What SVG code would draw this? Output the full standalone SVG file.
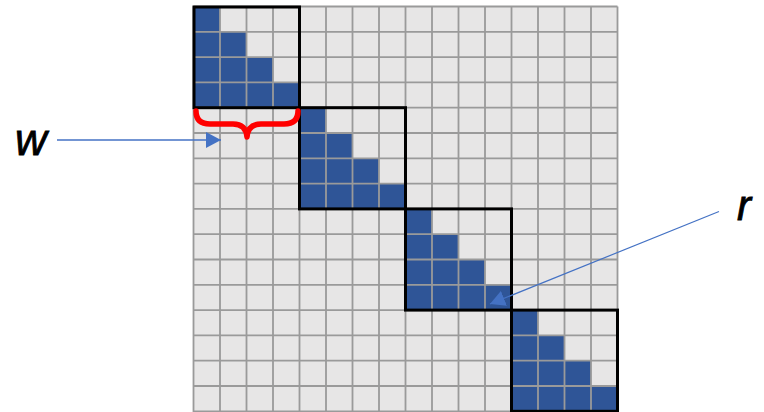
<svg xmlns="http://www.w3.org/2000/svg" width="764" height="412" viewBox="0 0 764 412">
  <defs>
    <style>
      .bg { fill: #e7e6e6; }
      .cell { fill: #2f5597; }
      .grid { stroke: #9a9a9a; stroke-width: 1.8; fill: none; }
      .box { stroke: #000; stroke-width: 3; fill: none; }
      .conn { stroke: #4472c4; fill: none; }
      .lbl { font-family: "Liberation Sans", Arial, sans-serif; font-style: italic; fill: #000; stroke: #000; stroke-width: 0.8; }
      .brace { stroke: #ff0000; stroke-width: 5.5; fill: none; stroke-linecap: round; stroke-linejoin: round; }
    </style>
    <marker id="ah" markerUnits="userSpaceOnUse" markerWidth="16" markerHeight="16" refX="15" refY="8" orient="auto">
      <path d="M0,0 L15,8 L0,16 z" fill="#4472c4"/>
    </marker>
  </defs>
  <rect width="764" height="412" fill="#fff"/>
  <rect class="bg" x="193.5" y="6.5" width="424" height="405"/>

  <g id="block1">
    <rect class="cell" x="193.5" y="6.5" width="26.5" height="25.3"/>
    <rect class="cell" x="193.5" y="31.8" width="53" height="25.3"/>
    <rect class="cell" x="193.5" y="57.1" width="79.5" height="25.3"/>
    <rect class="cell" x="193.5" y="82.4" width="106" height="25.3"/>
  </g>
  <g id="block2">
    <rect class="cell" x="299.5" y="107.7" width="26.5" height="25.3"/>
    <rect class="cell" x="299.5" y="133" width="53" height="25.3"/>
    <rect class="cell" x="299.5" y="158.3" width="79.5" height="25.3"/>
    <rect class="cell" x="299.5" y="183.6" width="106" height="25.3"/>
  </g>
  <g id="block3">
    <rect class="cell" x="405.5" y="208.9" width="26.5" height="25.3"/>
    <rect class="cell" x="405.5" y="234.2" width="53" height="25.3"/>
    <rect class="cell" x="405.5" y="259.5" width="79.5" height="25.3"/>
    <rect class="cell" x="405.5" y="284.8" width="106" height="25.3"/>
  </g>
  <g id="block4">
    <rect class="cell" x="511.5" y="310.1" width="26.5" height="25.3"/>
    <rect class="cell" x="511.5" y="335.4" width="53" height="25.3"/>
    <rect class="cell" x="511.5" y="360.7" width="79.5" height="25.3"/>
    <rect class="cell" x="511.5" y="386" width="106" height="25.3"/>
  </g>

  <g id="grid">
    <path class="grid" d="M193.5,6.5V412 M220,6.5V412 M246.5,6.5V412 M273,6.5V412 M299.5,6.5V412 M326,6.5V412 M352.5,6.5V412 M379,6.5V412 M405.5,6.5V412 M432,6.5V412 M458.5,6.5V412 M485,6.5V412 M511.5,6.5V412 M538,6.5V412 M564.5,6.5V412 M591,6.5V412 M617.5,6.5V412
      M193.5,6.5H617.5 M193.5,31.8H617.5 M193.5,57.1H617.5 M193.5,82.4H617.5 M193.5,107.7H617.5 M193.5,133H617.5 M193.5,158.3H617.5 M193.5,183.6H617.5 M193.5,208.9H617.5 M193.5,234.2H617.5 M193.5,259.5H617.5 M193.5,284.8H617.5 M193.5,310.1H617.5 M193.5,335.4H617.5 M193.5,360.7H617.5 M193.5,386H617.5 M193.5,411.3H617.5"/>
  </g>

  <g id="boxes">
    <rect class="box" x="194" y="7" width="105.5" height="100.7"/>
    <rect class="box" x="299.5" y="107.7" width="106" height="101.2"/>
    <rect class="box" x="405.5" y="208.9" width="106" height="101.2"/>
    <rect class="box" x="511.5" y="310.1" width="106" height="101.2"/>
  </g>

  <g id="brace">
    <path class="brace" d="M196,111 Q196,124 210,124 L233,124 Q246,124 247,137 Q248,124 261,124 L284,124 Q298,124 298,111"/>
  </g>

  <g id="connectors">
    <line class="conn" stroke-width="1.6" x1="57" y1="140" x2="221" y2="140" marker-end="url(#ah)"/>
    <line class="conn" stroke-width="1.2" x1="719" y1="211.5" x2="490" y2="304" marker-end="url(#ah)"/>
  </g>

  <g id="label-w"><text class="lbl" x="15" y="155" font-size="44">w</text></g>
  <g id="label-r"><text class="lbl" x="737" y="220" font-size="42">r</text></g>
</svg>
